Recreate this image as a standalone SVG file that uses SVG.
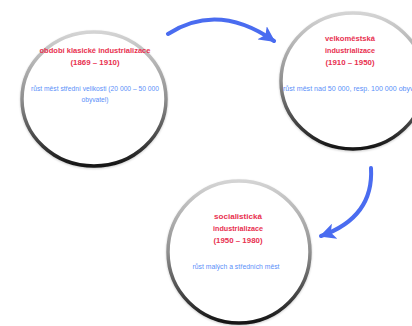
<svg xmlns="http://www.w3.org/2000/svg" width="412" height="326" viewBox="0 0 412 326">
<defs>
<linearGradient id="ring" x1="0" y1="0" x2="0" y2="1">
<stop offset="0" stop-color="#d4d4d4"/>
<stop offset="0.5" stop-color="#8f8f8f"/>
<stop offset="1" stop-color="#141414"/>
</linearGradient>
<marker id="head" viewBox="0 0 10 10" refX="9" refY="5" markerWidth="4" markerHeight="4" orient="auto" markerUnits="strokeWidth">
<path d="M0,0 L10,5 L0,10 L2.5,5 Z" fill="#4a6cf0"/>
</marker>
<filter id="sh" x="-20%" y="-20%" width="140%" height="140%">
<feGaussianBlur in="SourceAlpha" stdDeviation="1.2"/>
<feOffset dy="1" result="b"/>
<feComponentTransfer><feFuncA type="linear" slope="0.2"/></feComponentTransfer>
<feMerge><feMergeNode/><feMergeNode in="SourceGraphic"/></feMerge>
</filter>
</defs>
<style>
.ring{fill:#fff;stroke:url(#ring);stroke-width:3.5}
.t{font-family:"Liberation Sans",Arial,sans-serif;font-size:7.5px;font-weight:bold;fill:#e8304f;text-anchor:middle}
.s{font-family:"Liberation Sans",Arial,sans-serif;font-size:6.5px;fill:#5b8ff9;text-anchor:middle}
.arr{fill:none;stroke:#4a6cf0;stroke-width:4;stroke-linecap:round;marker-end:url(#head)}
</style>
<rect width="412" height="326" fill="#fff"/>
<g id="node1">
<ellipse class="ring" cx="94" cy="99" rx="72" ry="67" filter="url(#sh)"/>
<text class="t" x="95" y="53" textLength="111" lengthAdjust="spacingAndGlyphs">období klasické industrializace</text>
<text class="t" x="95" y="65" textLength="49" lengthAdjust="spacingAndGlyphs">(1869 – 1910)</text>
<text class="s" x="95" y="91" textLength="128" lengthAdjust="spacingAndGlyphs">růst měst střední velikosti (20 000 – 50 000</text>
<text class="s" x="95" y="102" textLength="27" lengthAdjust="spacingAndGlyphs">obyvatel)</text>
</g>
<g id="node2">
<ellipse class="ring" cx="353" cy="81" rx="72" ry="68" filter="url(#sh)"/>
<text class="t" x="350" y="41" textLength="50" lengthAdjust="spacingAndGlyphs">velkoměstská</text>
<text class="t" x="350" y="53" textLength="50" lengthAdjust="spacingAndGlyphs">industrializace</text>
<text class="t" x="350" y="65" textLength="49" lengthAdjust="spacingAndGlyphs">(1910 – 1950)</text>
<text class="s" x="354" y="91" textLength="142" lengthAdjust="spacingAndGlyphs">růst měst nad 50 000, resp. 100 000 obyvatel</text>
</g>
<g id="node3">
<ellipse class="ring" cx="239" cy="252" rx="71" ry="71" filter="url(#sh)"/>
<text class="t" x="238" y="219" textLength="48" lengthAdjust="spacingAndGlyphs">socialistická</text>
<text class="t" x="238" y="231" textLength="50" lengthAdjust="spacingAndGlyphs">industrializace</text>
<text class="t" x="238" y="243" textLength="49" lengthAdjust="spacingAndGlyphs">(1950 – 1980)</text>
<text class="s" x="236" y="269" textLength="87" lengthAdjust="spacingAndGlyphs">růst malých a středních měst</text>
</g>
<g id="connectors">
<path class="arr" d="M168,34 Q218,2 274,41"/>
<path class="arr" d="M371,168 C373,202 355,224 321,236"/>
</g>
</svg>
